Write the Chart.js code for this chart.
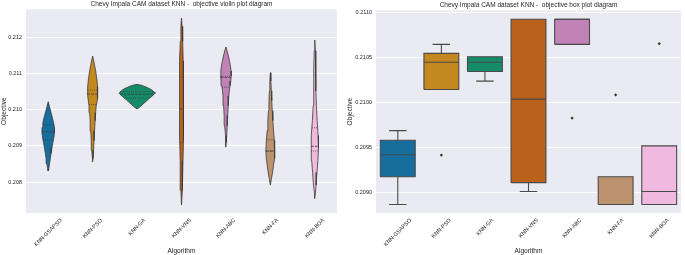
<!DOCTYPE html>
<html>
<head>
<meta charset="utf-8">
<script src="https://cdn.jsdelivr.net/npm/chart.js@4.4.1/dist/chart.umd.min.js"></script>
<style>
  body { margin: 0; background: #fff; }
  #wrap { position: relative; width: 685px; height: 255px; }
  .panel { position: absolute; top: 0; height: 255px; }
</style>
</head>
<body>
<div id="wrap">
  <div class="panel" style="left:0;width:342px"><canvas id="violinChart"></canvas></div>
  <div class="panel" style="left:342px;width:343px"><canvas id="boxChart"></canvas></div>
</div>
<script>
const algorithms = ['KNN-GSAPSO', 'KNN-PSO', 'KNN-GA', 'KNN-VNS', 'KNN-ABC', 'KNN-FA', 'KNN-BOA'];
const colors = ['#176d9c', '#c38820', '#168b6a', '#ba611b', '#c183b5', '#bd926e', '#f1b8e0'];

// violin outlines: objective value (top -> bottom) and kde density at that value
const gsapsoVal = [0.21022, 0.21008, 0.20994, 0.20980, 0.20965, 0.20951, 0.20937, 0.20922, 0.20908, 0.20894, 0.20880, 0.20865, 0.20851, 0.20837, 0.20831];
const gsapsoDen = [0, 1.3, 2.6, 4.0, 5.3, 6.2, 6.3, 5.6, 4.6, 3.7, 2.9, 2.1, 1.3, 0.6, 0];
const psoVal = [0.21148, 0.21129, 0.21107, 0.21085, 0.21063, 0.21047, 0.21030, 0.21011, 0.20992, 0.20970, 0.20942, 0.20915, 0.20888, 0.20866, 0.20856];
const psoDen = [0, 1.5, 3.0, 4.2, 5.0, 5.2, 4.6, 3.6, 3.0, 2.5, 1.9, 1.4, 0.9, 0.4, 0];
const gaVal = [0.21070, 0.21067, 0.21061, 0.21055, 0.21049, 0.21045, 0.21038, 0.21030, 0.21022, 0.21014, 0.21007, 0.21002];
const gaDen = [0, 5, 10.3, 14.5, 17, 17.8, 15.3, 11.8, 8.6, 5.3, 2.5, 0];
const vnsVal = [0.21253, 0.21230, 0.21189, 0.21134, 0.21079, 0.21025, 0.20970, 0.20915, 0.20860, 0.20819, 0.20778, 0.20737];
const vnsDen = [0, 0.6, 1.2, 1.7, 2.0, 2.1, 2.0, 1.8, 1.5, 1.1, 0.6, 0];
const abcVal = [0.21173, 0.21162, 0.21148, 0.21134, 0.21121, 0.21107, 0.21093, 0.21079, 0.21066, 0.21052, 0.21038, 0.21011, 0.20984, 0.20956, 0.20929, 0.20910, 0.20897];
const abcDen = [0, 1.2, 2.5, 3.6, 4.5, 5.1, 5.3, 4.9, 4.1, 3.4, 2.9, 2.3, 1.8, 1.3, 0.8, 0.4, 0];
const faVal = [0.21102, 0.21079, 0.21052, 0.21025, 0.20997, 0.20970, 0.20942, 0.20915, 0.20888, 0.20866, 0.20847, 0.20827, 0.20811, 0.20792];
const faDen = [0, 0.5, 1.0, 1.4, 1.9, 2.5, 3.2, 4.0, 4.5, 4.1, 3.2, 2.2, 1.2, 0];
const boaVal = [0.21192, 0.21162, 0.21107, 0.21052, 0.21011, 0.20970, 0.20929, 0.20893, 0.20860, 0.20827, 0.20792, 0.20770, 0.20755];
const boaDen = [0, 0.6, 0.9, 1.2, 1.6, 2.4, 3.3, 3.7, 3.1, 2.2, 1.3, 0.6, 0];

// inner quartile lines of the violins
const violinQ3 = [0.20958, 0.21054, 0.21050, 0.21090, 0.21092, 0.20917, 0.20950];
const violinMed = [0.20939, 0.21043, 0.21043, 0.21002, 0.21089, 0.20886, 0.20899];
const violinQ1 = [0.20917, 0.21014, 0.21032, 0.20910, 0.21062, 0.20886, 0.20886];

// box plot
const boxQ1 = [0.209173, 0.210141, 0.210340, 0.209107, 0.210642, 0.208864, 0.208864];
const boxMed = [0.209416, 0.210443, 0.210443, 0.210034, 0.210920, 0.208864, 0.209008];
const boxQ3 = [0.209577, 0.210542, 0.210505, 0.210920, 0.210920, 0.209173, 0.209515];
const whiskLo = [0.208864, 0.210141, 0.210234, 0.209008, 0.210642, 0.208864, 0.208864];
const whiskHi = [0.209684, 0.210642, 0.210505, 0.210920, 0.210920, 0.209173, 0.209515];
const flierIdx = [1, 4, 5, 6];
const flierVal = [0.209413, 0.209824, 0.210081, 0.210649];

const violinTicks = [0.208, 0.209, 0.210, 0.211, 0.212];
const boxTicks = [0.2090, 0.2095, 0.2100, 0.2105, 0.2110];

const violinVals = [gsapsoVal, psoVal, gaVal, vnsVal, abcVal, faVal, boaVal];
const violinDens = [gsapsoDen, psoDen, gaDen, vnsDen, abcDen, faDen, boaDen];

const FONT = '"Liberation Sans", Arial, sans-serif';
const TEXT = '#262626';
const EDGE = '#3a3a3a';
const DEN_SCALE = 0.0225;   // density unit -> category width
const BOX_W = 0.4;

function denAt(vals, dens, q) {
    for (let i = 0; i < vals.length - 1; i++) {
        if (q <= vals[i] && q >= vals[i + 1]) {
            const t = (vals[i] - q) / (vals[i] - vals[i + 1]);
            return dens[i] + t * (dens[i + 1] - dens[i]);
        }
    }
    return 0;
}

function segment(pts, color, width, dash, order) {
    return {
        data: pts,
        borderColor: color,
        borderWidth: width,
        borderDash: dash || [],
        pointRadius: 0,
        fill: false,
        order: order || 1
    };
}

// violin datasets
const violinSets = [];
algorithms.forEach(function(name, i) {
    const vals = violinVals[i];
    const dens = violinDens[i];
    const pts = [];
    vals.forEach(function(v, k) { pts.push({x: i + dens[k] * DEN_SCALE, y: v}); });
    for (let k = vals.length - 1; k >= 0; k--) pts.push({x: i - dens[k] * DEN_SCALE, y: vals[k]});
    violinSets.push({
        data: pts,
        backgroundColor: colors[i],
        borderColor: EDGE,
        borderWidth: 0.8,
        pointRadius: 0,
        fill: 'shape',
        order: 2
    });
    [[violinQ3[i], [0.9, 1.2]], [violinMed[i], [2.6, 1.2]], [violinQ1[i], [0.9, 1.2]]].forEach(function(q) {
        const w = denAt(vals, dens, q[0]) * DEN_SCALE;
        violinSets.push(segment([{x: i - w, y: q[0]}, {x: i + w, y: q[0]}], EDGE, 0.8, q[1]));
    });
});

// box datasets
const GRAY = '#4a4a4a';
const boxSets = [];
algorithms.forEach(function(name, i) {
    boxSets.push({
        data: [{x: i - BOX_W, y: boxQ1[i]}, {x: i + BOX_W, y: boxQ1[i]}, {x: i + BOX_W, y: boxQ3[i]},
               {x: i - BOX_W, y: boxQ3[i]}, {x: i - BOX_W, y: boxQ1[i]}],
        backgroundColor: colors[i],
        borderColor: GRAY,
        borderWidth: 1.1,
        pointRadius: 0,
        fill: 'shape',
        order: 2
    });
    boxSets.push(segment([{x: i - BOX_W, y: boxMed[i]}, {x: i + BOX_W, y: boxMed[i]}], GRAY, 1.1));
    if (whiskHi[i] > boxQ3[i]) {
        boxSets.push(segment([{x: i, y: boxQ3[i]}, {x: i, y: whiskHi[i]}], GRAY, 1.1));
        boxSets.push(segment([{x: i - BOX_W / 2, y: whiskHi[i]}, {x: i + BOX_W / 2, y: whiskHi[i]}], GRAY, 1.1));
    }
    if (whiskLo[i] < boxQ1[i]) {
        boxSets.push(segment([{x: i, y: boxQ1[i]}, {x: i, y: whiskLo[i]}], GRAY, 1.1));
        boxSets.push(segment([{x: i - BOX_W / 2, y: whiskLo[i]}, {x: i + BOX_W / 2, y: whiskLo[i]}], GRAY, 1.1));
    }
});
boxSets.push({
    data: flierIdx.map(function(k, j) { return {x: k, y: flierVal[j]}; }),
    showLine: false,
    pointStyle: 'rectRot',
    pointRadius: 1.6,
    backgroundColor: '#333',
    borderColor: '#333',
    borderWidth: 0,
    order: 0
});

const seabornLook = {
    id: 'seabornLook',
    beforeDraw: function(chart) {
        const a = chart.chartArea, ctx = chart.ctx;
        ctx.save();
        ctx.fillStyle = '#eaeaf2';
        ctx.fillRect(a.left, a.top, a.right - a.left, a.bottom - a.top);
        ctx.restore();
    },
    afterDraw: function(chart) {
        const a = chart.chartArea, ctx = chart.ctx, x = chart.scales.x;
        ctx.save();
        ctx.font = '5.5px ' + FONT;
        ctx.fillStyle = TEXT;
        ctx.textAlign = 'center';
        ctx.textBaseline = 'middle';
        algorithms.forEach(function(name, i) {
            const w = ctx.measureText(name).width;
            const half = (w + 5.5) * Math.SQRT1_2 / 2;
            ctx.save();
            ctx.translate(x.getPixelForValue(i), a.bottom + 4.5 + half);
            ctx.rotate(-Math.PI / 4);
            ctx.fillText(name, 0, 0);
            ctx.restore();
        });
        ctx.restore();
    }
};

function makeChart(id, datasets, title, yMin, yMax, ticks, decimals, yWidth, yTitlePad, pad) {
    const ctx = document.getElementById(id).getContext('2d');
    return new Chart(ctx, {
        type: 'line',
        data: {datasets: datasets},
        plugins: [seabornLook],
        options: {
            responsive: true,
            maintainAspectRatio: false,
            animation: false,
            devicePixelRatio: 1,
            layout: {padding: pad},
            elements: {line: {tension: 0}},
            plugins: {
                legend: {display: false},
                tooltip: {enabled: false},
                title: {
                    display: true,
                    fullSize: false,
                    text: title,
                    color: TEXT,
                    font: {family: FONT, size: 6.5, weight: 'normal'},
                    padding: {top: 0, bottom: 1.5}
                }
            },
            scales: {
                x: {
                    type: 'linear',
                    min: -0.5,
                    max: 6.5,
                    grid: {display: false},
                    border: {display: false},
                    ticks: {display: false},
                    title: {display: true, text: 'Algorithm', color: TEXT, font: {family: FONT, size: 6.6}, padding: 0},
                    afterFit: function(s) { s.height = 255 - 213 - pad.bottom; }
                },
                y: {
                    min: yMin,
                    max: yMax,
                    grid: {color: '#ffffff', lineWidth: 0.9, drawTicks: false},
                    border: {display: false},
                    afterBuildTicks: function(s) { s.ticks = ticks.map(function(v) { return {value: v}; }); },
                    ticks: {
                        color: TEXT,
                        padding: 4,
                        font: {family: FONT, size: 5.5},
                        callback: function(v) { return v.toFixed(decimals); }
                    },
                    title: {display: true, text: 'Objective', color: TEXT, font: {family: FONT, size: 6.6}, padding: {top: yTitlePad, bottom: 0}},
                    afterFit: function(s) { s.width = yWidth; }
                }
            }
        }
    });
}

makeChart('violinChart', violinSets, 'Chevy Impala CAM dataset KNN -  objective violin plot diagram',
    0.20715, 0.21277, violinTicks, 3, 26, 0, {top: 0, right: 5, bottom: 0, left: 0});
makeChart('boxChart', boxSets, 'Chevy Impala CAM dataset KNN -  objective box plot diagram',
    0.20877, 0.21102, boxTicks, 4, 34, 4.5, {top: 1, right: 1, bottom: 0, left: 0});
</script>
</body>
</html>
